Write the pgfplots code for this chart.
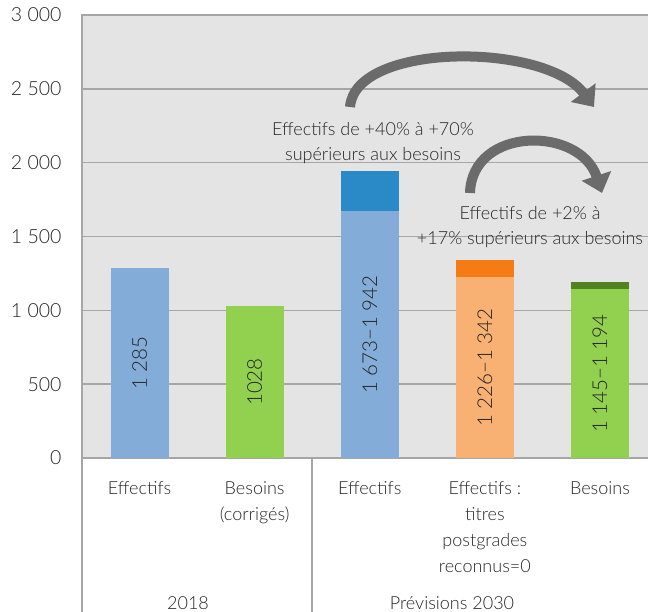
\documentclass[border=0pt]{standalone}
\usepackage{fontspec}
\IfFontExistsTF{Lato Light}{\setmainfont{Lato Light}}{\setmainfont{Lato}}
\usepackage{pgfplots}
\pgfplotsset{compat=1.18}
\usetikzlibrary{arrows.meta}
\definecolor{bgc}{HTML}{E4E4E4}
\definecolor{gridc}{HTML}{A6A6A6}
\definecolor{bluel}{HTML}{83ACD8}
\definecolor{blued}{HTML}{2A8AC8}
\definecolor{greenl}{HTML}{92D050}
\definecolor{greend}{HTML}{538222}
\definecolor{orangel}{HTML}{F9B073}
\definecolor{oranged}{HTML}{F57B15}
\definecolor{txt}{HTML}{262626}
\definecolor{arrowc}{HTML}{6B6B6B}
\begin{document}
\begin{tikzpicture}
\clip (0pt,0pt) rectangle (648pt,612pt);
\begin{axis}[
  at={(82pt,154pt)}, anchor=south west,
  scale only axis, width=570pt, height=443pt,
  xmin=-0.5, xmax=4.452, ymin=0, ymax=3000,
  axis background/.style={fill=bgc},
  axis line style={draw=gridc, line width=1.5pt},
  ytick={0,500,1000,1500,2000,2500,3000},
  yticklabels={0,500,1 000,1 500,2 000,2 500,3 000},
  ymajorgrids, grid style={draw=gridc, line width=1.5pt},
  xtick={0,1,2,3,4},
  xticklabels={Effectifs,Besoins\\(corrigés),Effectifs,Effectifs :\\titres\\postgrades\\reconnus=0,Besoins},
  major tick length=0pt,
  tick style={draw=none},
  yticklabel style={font=\fontsize{19.5}{22}\selectfont, text=txt, xshift=-17pt},
  xticklabel style={font=\fontsize{18}{26}\selectfont, text=txt, anchor=north, align=center, yshift=-20pt},
  ybar, bar width=58pt, bar shift=0pt,
  clip=false,
]
\addplot[fill=blued, draw=none] coordinates {(2,1942)};
\addplot[fill=oranged, draw=none] coordinates {(3,1342)};
\addplot[fill=greend, draw=none] coordinates {(4,1194)};
\addplot[fill=bluel, draw=none] coordinates {(0,1285)};
\addplot[fill=greenl, draw=none] coordinates {(1,1028)};
\addplot[fill=bluel, draw=none] coordinates {(2,1673)};
\addplot[fill=orangel, draw=none] coordinates {(3,1226)};
\addplot[fill=greenl, draw=none] coordinates {(4,1145)};
\begin{scope}[every node/.style={rotate=90, text=txt, font=\fontsize{20.5}{22}\selectfont}]
\node at (axis cs:0,642) {1 285};
\node at (axis cs:1,514) {1028};
\node at (axis cs:2,836) {1 673−1 942};
\node at (axis cs:3,613) {1 226−1 342};
\node at (axis cs:4,572) {1 145−1 194};
\end{scope}
\end{axis}
\draw[gridc, line width=1.5pt] (82pt,154pt) -- (82pt,0pt);
\draw[gridc, line width=1.5pt] (312pt,154pt) -- (312pt,0pt);
\node[anchor=base, text=txt, font=\fontsize{18}{26}\selectfont, inner sep=0pt] at (188pt,2pt) {2018};
\node[anchor=base, text=txt, font=\fontsize{18}{26}\selectfont, inner sep=0pt] at (452pt,2pt) {Prévisions 2030};
\draw[arrowc, line width=10pt, -{Triangle[width=30pt,length=18pt]}] (350pt,505pt) .. controls (355pt,570pt) and (545pt,570pt) .. (594pt,505pt);
\draw[arrowc, line width=10pt, -{Triangle[width=30pt,length=18pt]}] (470pt,419pt) .. controls (472pt,486pt) and (580pt,486pt) .. (602pt,419pt);
\node[align=center, text=txt, font=\fontsize{18}{25}\selectfont] at (373pt,469pt) {Effectifs de +40\% à +70\%\\supérieurs aux besoins};
\node[align=center, text=txt, font=\fontsize{18}{25}\selectfont] at (530pt,384.5pt) {Effectifs de +2\% à\\+17\% supérieurs aux besoins};
\end{tikzpicture}
\end{document}
